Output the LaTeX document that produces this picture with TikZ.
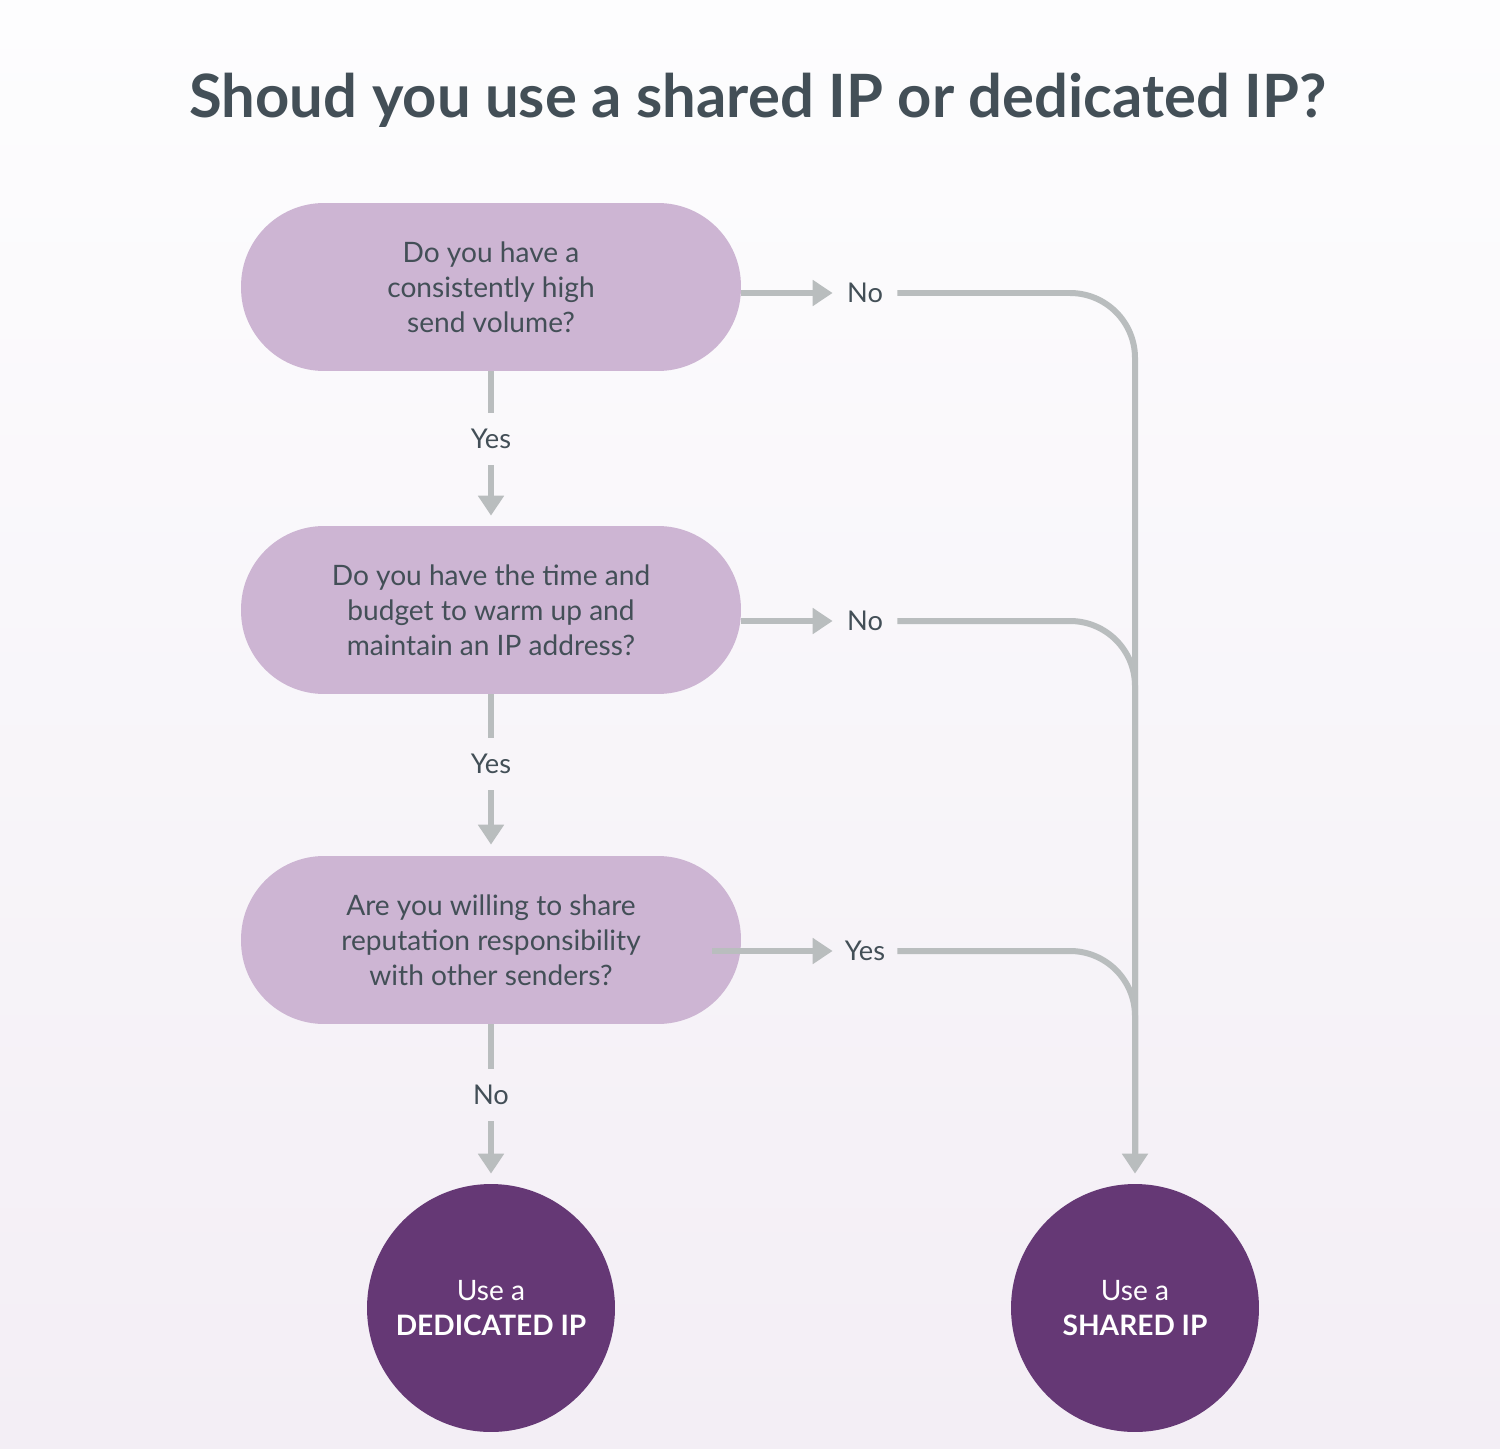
\documentclass[tikz,border=0pt]{standalone}
\usepackage{fontspec}
\setmainfont{Lato}
\usetikzlibrary{arrows.meta, positioning, shapes.geometric}
\definecolor{cText}{RGB}{67,79,87}
\definecolor{cLilac}{RGB}{205,181,211}
\definecolor{cPlum}{RGB}{101,56,117}
\definecolor{cLine}{RGB}{185,189,190}
\definecolor{cBgTop}{RGB}{253,253,254}
\definecolor{cBgBot}{RGB}{243,238,245}
\tikzset{
    question/.style={rectangle, rounded corners=1.66cm, minimum width=10cm, minimum height=3.36cm, align=center, fill=cLilac, text=cText, font=\fontsize{16}{19.8}\selectfont},
    answer/.style  ={circle, minimum size=4.96cm, align=center, fill=cPlum, text=white, font=\fontsize{16}{19.8}\selectfont},
    choice/.style  ={inner sep=0pt, text=cText, font=\fontsize{15.5}{18}\selectfont},
    hchoice/.style ={choice, minimum width=1.28cm},
    vchoice/.style ={choice, minimum height=1.04cm},
    link/.style    ={line width=0.12cm, draw=cLine},
    flowarrow/.style={link, -{Triangle[length=0.4cm, width=0.5cm]}},
}
\begin{document}
\begin{tikzpicture}[x=0.02cm, y=-0.02cm]
    % background
    \shade[top color=cBgTop, bottom color=cBgBot] (0,0) rectangle (1500,1449);
    \useasboundingbox (0,0) rectangle (1500,1449);
    % title
    \node[text=cText, font=\fontsize{34}{40}\selectfont\bfseries] (title) at (758,100) {Shoud you use a shared IP or dedicated IP?};
    % questions
    \node[question] (volume) at (491,287) {Do you have a\\ consistently high\\ send volume?};
    \node[question] (warmup) at (491,610) {Do you have the time and\\ budget to warm up and\\ maintain an IP address?};
    \node[question] (share)  at (491,940) {Are you willing to share\\ reputation responsibility\\ with other senders?};
    % outcomes
    \node[answer] (dedicated) at (491,1308) {Use a\\ \textbf{DEDICATED IP}};
    \node[answer] (shared)    at (1135,1308) {Use a\\ \textbf{SHARED IP}};
    % answer labels
    \node[hchoice] (volNo)    at (865,293) {No};
    \node[hchoice] (warmNo)   at (865,621) {No};
    \node[hchoice] (shareYes) at (865,951) {Yes};
    \node[vchoice] (volYes)   at (491,439) {Yes};
    \node[vchoice] (warmYes)  at (491,764) {Yes};
    \node[vchoice] (shareNo)  at (491,1095) {No};
    % down the left
    \draw[link] (volume.south) -- (volYes.north);
    \draw[flowarrow, shorten >=0.2cm] (volYes.south) -- (warmup.north);
    \draw[link] (warmup.south) -- (warmYes.north);
    \draw[flowarrow, shorten >=0.22cm] (warmYes.south) -- (share.north);
    \draw[link] (share.south) -- (shareNo.north);
    \draw[flowarrow, shorten >=0.2cm] (shareNo.south) -- (dedicated.north);
    % over to the right
    \draw[flowarrow] (volume.east |- volNo.west) -- (volNo.west);
    \draw[flowarrow] (warmup.east |- warmNo.west) -- (warmNo.west);
    \draw[flowarrow] ([xshift=-0.58cm]share.east |- shareYes.west) -- (shareYes.west);
    \draw[flowarrow, rounded corners=1.3cm, shorten >=0.2cm] (volNo.east) -| (shared.north);
    \draw[link, rounded corners=1.3cm, shorten >=0.6cm] (warmNo.east) -| (shared.north);
    \draw[link, rounded corners=1.3cm, shorten >=0.6cm] (shareYes.east) -| (shared.north);
\end{tikzpicture}
\end{document}
